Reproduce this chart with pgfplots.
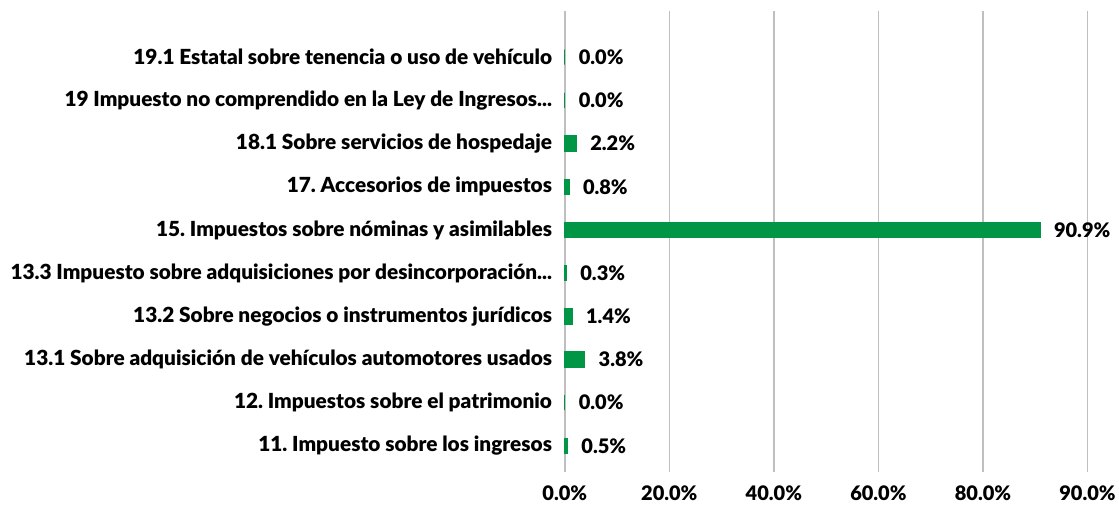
\documentclass[border=0pt]{standalone}
\usepackage{fontspec}
\setmainfont{Lato}[BoldFont={Lato Black}]
\usepackage{pgfplots}
\pgfplotsset{compat=1.18}
\usetikzlibrary{calc}
\definecolor{BarGreen}{HTML}{009645}
\definecolor{GridGray}{HTML}{BFBFBF}
\newcommand{\dd}{.\kern0pt.\kern0pt.}
\frenchspacing

\begin{document}
\begin{tikzpicture}
\begin{axis}[
  name=main,
  scale only axis,
  width=523pt, height=461pt,
  xbar,
  bar width=15pt,
  xmin=0, xmax=100,
  ymin=-0.6, ymax=10.07,
  axis line style={draw=none},
  xmajorgrids,
  grid style={GridGray, line width=1.6pt},
  xtick={0,20,40,60,80,100},
  xticklabels={0.0\%,20.0\%,40.0\%,60.0\%,80.0\%,90.0\%},
  ytick={0,1,2,3,4,5,6,7,8,9},
  yticklabels={
    {11. Impuesto sobre los ingresos},
    {12. Impuestos sobre el patrimonio},
    {13.1 Sobre adquisición de vehículos automotores usados},
    {13.2 Sobre negocios o instrumentos jurídicos},
    {13.3 Impuesto sobre adquisiciones por desincorporación\dd},
    {15. Impuestos sobre nóminas y asimilables},
    {17. Accesorios de impuestos},
    {18.1 Sobre servicios de hospedaje},
    {19 Impuesto no comprendido en la Ley de Ingresos\dd},
    {19.1 Estatal sobre tenencia o uso de vehículo}},
  tick style={draw=none},
  yticklabel style={font=\fontsize{20.8}{23}\selectfont\bfseries, anchor=east, xshift=-5pt},
  xticklabel style={font=\fontsize{20}{22}\selectfont\bfseries, yshift=-10pt},
  /pgf/number format/assume math mode=true,
  point meta=x,
  nodes near coords={\pgfmathprintnumber[fixed,fixed zerofill,precision=1]{\pgfplotspointmeta}\%},
  nodes near coords style={font=\fontsize{20}{22}\selectfont\bfseries, anchor=west, xshift=10pt},
  clip=false,
]
\addplot[fill=BarGreen, draw=BarGreen, line width=1.5pt] coordinates {
  (0.5,0) (0.0,1) (3.8,2) (1.4,3) (0.3,4) (90.9,5) (0.8,6) (2.2,7) (0.0,8) (0.0,9)
};
\end{axis}
\path ($(main.south west)+(-565pt,-36pt)$) rectangle ($(main.south west)+(554pt,472pt)$);
\end{tikzpicture}
\end{document}
